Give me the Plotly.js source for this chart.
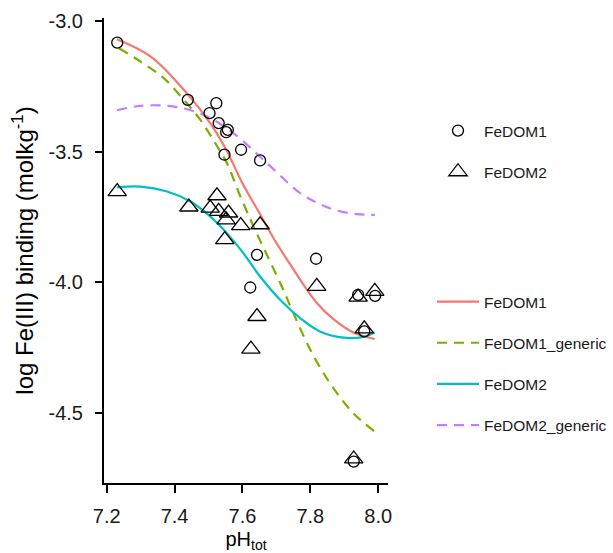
<!DOCTYPE html>
<html>
<head>
<meta charset="utf-8">
<script src="https://cdn.plot.ly/plotly-3.0.1.min.js"></script>
<style>html,body{margin:0;padding:0;background:#fff;}#chart{width:613px;height:553px;}</style>
</head>
<body>
<div id="chart"></div>
<script>
// Observed data points
var dom1PH = [7.231, 7.439, 7.523, 7.503, 7.530, 7.557, 7.552, 7.596, 7.547, 7.652, 7.643, 7.623, 7.817, 7.941, 7.991, 7.959, 7.928];
var dom1Val = [-3.083, -3.302, -3.315, -3.353, -3.391, -3.417, -3.426, -3.493, -3.512, -3.534, -3.895, -4.020, -3.910, -4.048, -4.052, -4.188, -4.686];
var dom2PH = [7.231, 7.442, 7.525, 7.505, 7.530, 7.559, 7.552, 7.595, 7.652, 7.548, 7.643, 7.625, 7.819, 7.941, 7.990, 7.959, 7.928];
var dom2Val = [-3.653, -3.712, -3.669, -3.716, -3.729, -3.735, -3.761, -3.783, -3.780, -3.837, -4.131, -4.256, -4.016, -4.057, -4.035, -4.178, -4.676];

// Model curves
var fit1PH = [7.23, 7.33, 7.44, 7.505, 7.55, 7.60, 7.65, 7.70, 7.74, 7.77, 7.82, 7.87, 7.93, 7.99];
var fit1Val = [-3.07, -3.137, -3.283, -3.391, -3.487, -3.621, -3.735, -3.85, -3.93, -3.99, -4.08, -4.143, -4.194, -4.217];
var gen1PH = [7.236, 7.30, 7.368, 7.427, 7.476, 7.52, 7.554, 7.594, 7.633, 7.672, 7.716, 7.75, 7.80, 7.858, 7.926, 7.99];
var gen1Val = [-3.105, -3.156, -3.219, -3.302, -3.379, -3.468, -3.544, -3.672, -3.787, -3.895, -4.016, -4.118, -4.258, -4.386, -4.50, -4.571];
var fit2PH = [7.23, 7.30, 7.378, 7.447, 7.505, 7.554, 7.60, 7.652, 7.711, 7.77, 7.828, 7.907, 7.956, 7.99];
var fit2Val = [-3.637, -3.634, -3.653, -3.691, -3.748, -3.812, -3.884, -3.978, -4.067, -4.137, -4.188, -4.213, -4.209, -4.192];
var gen2PH = [7.23, 7.30, 7.378, 7.437, 7.496, 7.574, 7.672, 7.77, 7.819, 7.877, 7.936, 7.99];
var gen2Val = [-3.342, -3.325, -3.325, -3.338, -3.366, -3.430, -3.544, -3.659, -3.695, -3.725, -3.739, -3.742];

// Tick labels
var xTickVals = [7.2, 7.4, 7.6, 7.8, 8.0];
var xTickText = ["7.2", "7.4", "7.6", "7.8", "8.0"];
var yTickVals = [-3.0, -3.5, -4.0, -4.5];
var yTickText = ["-3.0", "-3.5", "-4.0", "-4.5"];

var font = "Liberation Sans, Arial, sans-serif";

function lineTrace(x, y, name, color, dash, grp) {
  return {x: x, y: y, name: name, type: 'scatter', mode: 'lines',
    line: {color: color, width: 2.2, dash: dash, shape: 'spline', smoothing: 1},
    legend: 'legend2', legendgroup: grp, hoverinfo: 'skip'};
}

var traces = [
  lineTrace(fit1PH, fit1Val, 'FeDOM1', '#F8766D', 'solid', 'l1'),
  lineTrace(gen1PH, gen1Val, 'FeDOM1_generic', '#7CAE00', '10px,7px', 'l2'),
  lineTrace(fit2PH, fit2Val, 'FeDOM2', '#00BFC4', 'solid', 'l3'),
  lineTrace(gen2PH, gen2Val, 'FeDOM2_generic', '#C77CFF', '10px,7px', 'l4'),
  {x: dom1PH, y: dom1Val, name: 'FeDOM1', type: 'scatter', mode: 'markers',
   marker: {symbol: 'circle-open', size: 11, color: '#000', line: {width: 1.3, color: '#000'}},
   legend: 'legend', legendgroup: 'p1'},
  {x: dom2PH, y: dom2Val, name: 'FeDOM2', type: 'scatter', mode: 'markers',
   marker: {symbol: 'triangle-up-open', size: 16, color: '#000', line: {width: 1.3, color: '#000'}},
   legend: 'legend', legendgroup: 'p2'}
];

var layout = {
  width: 613, height: 553,
  margin: {l: 104, r: 225, t: 18, b: 70, pad: 0},
  paper_bgcolor: '#fff', plot_bgcolor: '#fff',
  font: {family: font, color: '#000', size: 20},
  showlegend: true,
  xaxis: {
    range: [7.192, 8.029], tickvals: xTickVals, ticktext: xTickText,
    showline: true, linecolor: '#000', linewidth: 2, ticks: 'outside', ticklen: 8, tickwidth: 2, tickcolor: '#000',
    ticklabelstandoff: 6,
    showgrid: false, zeroline: false, tickfont: {size: 20, color: '#1a1a1a'},
    title: {text: 'pH<sub>tot</sub>', font: {size: 20}, standoff: 6}
  },
  yaxis: {
    range: [-4.768, -2.989], tickvals: yTickVals, ticktext: yTickText,
    showline: true, linecolor: '#000', linewidth: 2, ticks: 'outside', ticklen: 7, tickwidth: 2, tickcolor: '#000',
    ticklabelstandoff: 8,
    showgrid: false, zeroline: false, tickfont: {size: 20, color: '#1a1a1a'},
    title: {text: 'log Fe(III) binding (molkg<sup>-1</sup>)', font: {size: 24}, standoff: 8}
  },
  legend: {
    xref: 'container', yref: 'container', x: 432 / 613, y: 1 - 114 / 553, xanchor: 'left', yanchor: 'top',
    font: {size: 15.5, color: '#1a1a1a'}, tracegroupgap: 18, itemwidth: 42, bgcolor: 'rgba(0,0,0,0)'
  },
  legend2: {
    xref: 'container', yref: 'container', x: 432 / 613, y: 1 - 285 / 553, xanchor: 'left', yanchor: 'top',
    font: {size: 15.5, color: '#1a1a1a'}, tracegroupgap: 18, itemwidth: 42, bgcolor: 'rgba(0,0,0,0)'
  }
};

Plotly.newPlot('chart', traces, layout, {displayModeBar: false, staticPlot: true});
</script>
</body>
</html>
